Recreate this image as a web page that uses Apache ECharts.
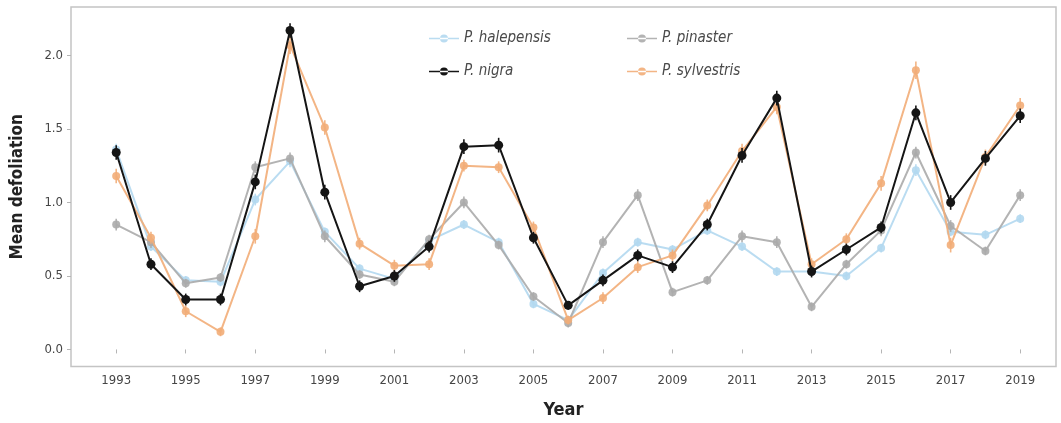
<!DOCTYPE html>
<html>
<head>
<meta charset="utf-8">
<script src="https://cdn.jsdelivr.net/npm/echarts@6/dist/echarts.min.js"></script>
<style>
  html, body { margin: 0; padding: 0; background: #fff; }
  #chart { width: 1061px; height: 423px; }
</style>
</head>
<body>
<div id="chart"></div>
<script>
// Survey years
const years = [1993, 1994, 1995, 1996, 1997, 1998, 1999, 2000, 2001, 2002, 2003, 2004, 2005, 2006,
               2007, 2008, 2009, 2010, 2011, 2012, 2013, 2014, 2015, 2016, 2017, 2018, 2019];

// Mean defoliation per species and year
const halepensis = [1.36, 0.70, 0.47, 0.46, 1.02, 1.28, 0.80, 0.55, 0.48, 0.74, 0.85, 0.73, 0.31, 0.20,
                    0.52, 0.73, 0.68, 0.81, 0.70, 0.53, 0.53, 0.50, 0.69, 1.22, 0.80, 0.78, 0.89];
const pinaster   = [0.85, 0.73, 0.45, 0.49, 1.24, 1.30, 0.77, 0.51, 0.46, 0.75, 1.00, 0.71, 0.36, 0.18,
                    0.73, 1.05, 0.39, 0.47, 0.77, 0.73, 0.29, 0.58, 0.81, 1.34, 0.84, 0.67, 1.05];
const nigra      = [1.34, 0.58, 0.34, 0.34, 1.14, 2.17, 1.07, 0.43, 0.50, 0.70, 1.38, 1.39, 0.76, 0.30,
                    0.47, 0.64, 0.56, 0.85, 1.32, 1.71, 0.53, 0.68, 0.83, 1.61, 1.00, 1.30, 1.59];
const sylvestris = [1.18, 0.76, 0.26, 0.12, 0.77, 2.07, 1.51, 0.72, 0.57, 0.58, 1.25, 1.24, 0.83, 0.20,
                    0.35, 0.56, 0.64, 0.98, 1.35, 1.65, 0.58, 0.75, 1.13, 1.90, 0.71, 1.31, 1.66];

// Standard errors
const halepensisErr = [0.04, 0.03, 0.03, 0.03, 0.04, 0.04, 0.03, 0.03, 0.03, 0.03, 0.03, 0.03, 0.03, 0.03,
                       0.03, 0.03, 0.03, 0.03, 0.03, 0.03, 0.03, 0.03, 0.03, 0.04, 0.03, 0.03, 0.03];
const pinasterErr   = [0.04, 0.04, 0.03, 0.03, 0.04, 0.04, 0.04, 0.03, 0.03, 0.03, 0.04, 0.03, 0.03, 0.03,
                       0.04, 0.04, 0.03, 0.03, 0.04, 0.04, 0.03, 0.03, 0.04, 0.04, 0.04, 0.03, 0.04];
const nigraErr      = [0.05, 0.04, 0.04, 0.04, 0.05, 0.05, 0.05, 0.04, 0.04, 0.04, 0.05, 0.05, 0.04, 0.03,
                       0.04, 0.04, 0.04, 0.04, 0.05, 0.05, 0.04, 0.04, 0.04, 0.05, 0.05, 0.05, 0.05];
const sylvestrisErr = [0.05, 0.04, 0.04, 0.03, 0.05, 0.06, 0.05, 0.04, 0.04, 0.04, 0.04, 0.04, 0.04, 0.03,
                       0.04, 0.04, 0.04, 0.04, 0.05, 0.05, 0.04, 0.04, 0.05, 0.06, 0.05, 0.05, 0.05];

const xTicks = [1993, 1995, 1997, 1999, 2001, 2003, 2005, 2007, 2009, 2011, 2013, 2015, 2017, 2019];
const yTicks = [0, 0.5, 1, 1.5, 2];

const speciesNames = ['P. halepensis', 'P. pinaster', 'P. nigra', 'P. sylvestris'];
const speciesValues = [halepensis, pinaster, nigra, sylvestris];
const speciesErrors = [halepensisErr, pinasterErr, nigraErr, sylvestrisErr];
const speciesColors = ['#b3d8ef', '#ababab', '#151515', '#f2ad78'];
const speciesZ = [2, 3, 5, 4];

const FONT = '"DejaVu Sans Condensed", "Liberation Sans Narrow", "Roboto", sans-serif';

const chart = echarts.init(document.getElementById('chart'), null, { renderer: 'canvas' });

const series = [];
speciesNames.forEach((name, i) => {
  const pts = years.map((y, k) => [y, speciesValues[i][k]]);
  series.push({
    name: name,
    type: 'line',
    data: pts,
    z: speciesZ[i],
    symbol: 'circle',
    symbolSize: i === 2 ? 9 : 8,
    showSymbol: true,
    lineStyle: { color: speciesColors[i], width: 2, opacity: i === 2 ? 1 : 0.9 },
    itemStyle: { color: speciesColors[i], opacity: i === 2 ? 1 : 0.9 },
    emphasis: { disabled: true },
    animation: false
  });
  // vertical error bars
  const errData = years.map((y, k) => [y, speciesValues[i][k] - speciesErrors[i][k], speciesValues[i][k] + speciesErrors[i][k]]);
  series.push({
    name: name,
    type: 'custom',
    data: errData,
    z: speciesZ[i],
    silent: true,
    animation: false,
    encode: { x: 0, y: [1, 2] },
    renderItem: function (params, api) {
      const lo = api.coord([api.value(0), api.value(1)]);
      const hi = api.coord([api.value(0), api.value(2)]);
      return {
        type: 'line',
        shape: { x1: lo[0], y1: lo[1], x2: hi[0], y2: hi[1] },
        style: { stroke: speciesColors[i], lineWidth: 1.6, opacity: i === 2 ? 1 : 0.9 }
      };
    }
  });
});

function legendAt(name, left, top) {
  return {
    data: [{ name: name, icon: 'path://M0,4.2 L30,4.2 L30,5.8 L0,5.8 Z M11,5 A4,4 0 1 0 19,5 A4,4 0 1 0 11,5 Z' }],
    left: left,
    top: top,
    itemWidth: 30,
    itemHeight: 10,
    itemGap: 8,
    selectedMode: false,
    textStyle: { fontFamily: FONT, fontSize: 15, fontStyle: 'italic', color: '#4a4a4a' }
  };
}

const option = {
  backgroundColor: '#ffffff',
  animation: false,
  legend: [
    legendAt('P. halepensis', 424, 26),
    legendAt('P. pinaster', 622, 26),
    legendAt('P. nigra', 424, 59),
    legendAt('P. sylvestris', 622, 59)
  ],
  grid: {
    left: 71, right: 5, top: 7, bottom: 56.5,
    outerBoundsMode: 'none',
    containLabel: false,
    show: true,
    borderColor: '#c4c4c4',
    borderWidth: 1.5,
    backgroundColor: 'transparent'
  },
  xAxis: {
    type: 'value',
    min: 1991.7,
    max: 2020.03,
    name: 'Year',
    nameLocation: 'middle',
    nameGap: 35,
    nameTextStyle: { fontFamily: FONT, fontSize: 18, fontWeight: 'bold', color: '#222' },
    axisLine: { show: false },
    splitLine: { show: false },
    axisTick: { show: true, customValues: xTicks, length: 4, lineStyle: { color: '#b5b5b5' } },
    axisLabel: {
      customValues: xTicks,
      margin: 8,
      fontFamily: FONT,
      fontSize: 13,
      color: '#454545',
      formatter: v => String(v)
    }
  },
  yAxis: {
    type: 'value',
    min: -0.116,
    max: 2.33,
    name: 'Mean defoliation',
    nameLocation: 'middle',
    nameGap: 45,
    nameRotate: 90,
    nameTextStyle: { fontFamily: FONT, fontSize: 17, fontWeight: 'bold', color: '#222' },
    axisLine: { show: false },
    splitLine: { show: false },
    axisTick: { show: true, customValues: yTicks, length: 4, lineStyle: { color: '#b5b5b5' } },
    axisLabel: {
      customValues: yTicks,
      margin: 8,
      fontFamily: FONT,
      fontSize: 13,
      color: '#454545',
      formatter: v => v.toFixed(1)
    }
  },
  series: series
};

chart.setOption(option);
</script>
</body>
</html>
